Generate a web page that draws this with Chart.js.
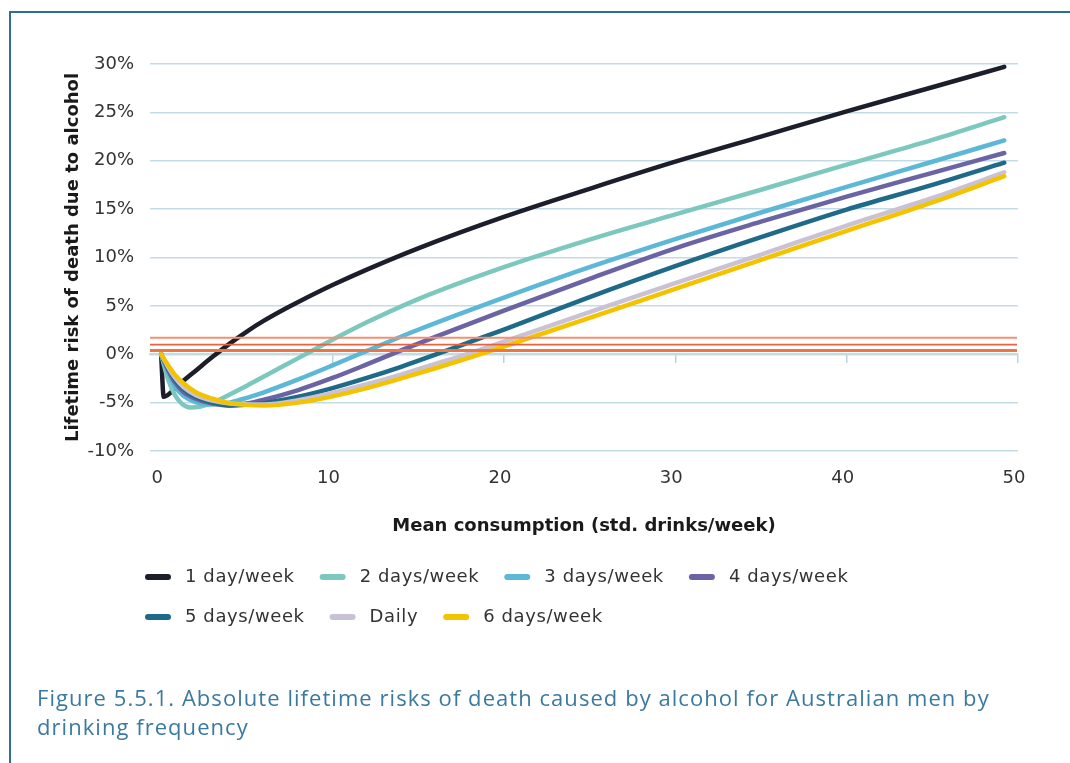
<!DOCTYPE html>
<html><head><meta charset="utf-8">
<script src="https://cdn.jsdelivr.net/npm/chart.js@4.4.1/dist/chart.umd.min.js"></script>
<style>
html,body{margin:0;padding:0;background:#fff;width:1070px;height:763px;overflow:hidden;}
#frame{position:absolute;left:9px;top:11px;width:1100px;height:800px;border-left:2px solid #2f6f97;border-top:2px solid #2f6f97;}
#c{position:absolute;left:0;top:0;}
#cap{position:absolute;left:37px;top:683px;font-family:'Open Sans';font-weight:400;font-size:22px;letter-spacing:1.05px;line-height:29px;color:#3b7aa0;white-space:nowrap;}
</style></head><body>
<div id="frame"></div>
<canvas id="c" width="1070" height="763"></canvas>
<div id="cap">Figure 5.5.1. Absolute lifetime risks of death caused by alcohol for Australian men by<br>drinking frequency</div>
<script>
// ---- data (x = mean std drinks/week, y = lifetime risk %) ----
const seriesNames = ['1 day/week','2 days/week','3 days/week','4 days/week','5 days/week','Daily','6 days/week'];
const seriesColors = ['#1c1f2b','#7cc8bf','#5cb8d6','#6b64a4','#1e6a88','#c9c2d6','#f4c300'];
const oneDay   = [[0,0],[0.15,-4.4],[1,-3.17],[2,-1.72],[3,-0.27],[4,1.1],[5,2.35],[6,3.47],[7,4.47],[8,5.4],[10,7.15],[12,8.75],[15,10.95],[20,14.2],[25,17.1],[30,19.9],[35,22.5],[40,25.1],[45,27.6],[49.2,29.7]];
const twoDays  = [[0,0],[0.4,-2.6],[0.8,-4.2],[1.2,-5.1],[1.7,-5.5],[2.3,-5.4],[3,-5.0],[4,-4.15],[5,-3.25],[6,-2.3],[7,-1.35],[8,-0.4],[9,0.55],[10,1.5],[12,3.3],[15,5.7],[20,9.0],[25,11.85],[30,14.45],[35,17.0],[40,19.6],[45,22.15],[49.2,24.5]];
const threeDays= [[0,0],[0.4,-1.9],[0.8,-3.3],[1.3,-4.3],[2,-4.95],[3,-5.2],[4,-5.0],[5,-4.5],[6,-3.93],[8,-2.6],[10,-1.15],[12,0.35],[15,2.53],[20,5.85],[25,9.0],[30,11.9],[35,14.65],[40,17.3],[45,19.9],[49.2,22.1]];
const fourDays = [[0,0],[0.4,-1.6],[0.8,-2.9],[1.3,-3.9],[2,-4.6],[3,-5.1],[4,-5.3],[5,-5.1],[6,-4.7],[8,-3.7],[10,-2.45],[12,-1.05],[14,0.4],[16,1.8],[20,4.5],[25,7.8],[30,10.95],[35,13.7],[40,16.3],[45,18.75],[49.2,20.8]];
const fiveDays = [[0,0],[0.4,-1.4],[0.8,-2.6],[1.3,-3.6],[2,-4.4],[3,-5.0],[4,-5.3],[6,-5.05],[8,-4.4],[10,-3.5],[12,-2.45],[14,-1.3],[16,-0.05],[18,1.25],[20,2.55],[25,5.9],[30,9.1],[35,12.1],[40,14.95],[45,17.5],[49.2,19.8]];
const daily    = [[0,0],[0.4,-1.3],[0.8,-2.4],[1.3,-3.4],[2,-4.2],[3,-4.8],[4,-5.1],[6,-5.2],[8,-4.75],[10,-4.0],[12,-3.1],[14,-2.1],[16,-1.0],[18,0.1],[20,1.3],[25,4.35],[30,7.35],[35,10.3],[40,13.3],[45,16.15],[49.2,18.8]];
const sixDays  = [[0,0],[0.4,-1.1],[0.8,-2.1],[1.3,-3.0],[2,-3.9],[3,-4.6],[4,-5.05],[6,-5.3],[8,-5.0],[10,-4.35],[12,-3.5],[14,-2.5],[16,-1.45],[18,-0.35],[20,0.8],[25,3.75],[30,6.75],[35,9.75],[40,12.75],[45,15.7],[49.2,18.4]];
const seriesData = [oneDay,twoDays,threeDays,fourDays,fiveDays,daily,sixDays];
const drawOrder = [7,6,5,4,3,2,1];
const refLevels = [1.7, 1.0, 0.4];
const refColors = ['#f3906f','#e9613e','#ef7440'];
const refWidths = [2, 1.6, 3];
const xTicks = [0,10,20,30,40,50];
const yTicks = [-10,-5,0,5,10,15,20,25,30];
const xMin = -0.65, xMax = 50, refEnd = 49.94;

const datasets = seriesData.map((pts,i)=>({
  label: seriesNames[i],
  data: pts.map(p=>({x:p[0], y:p[1]})),
  borderColor: seriesColors[i],
  backgroundColor: seriesColors[i],
  borderWidth: 4.5,
  pointRadius: 0,
  cubicInterpolationMode: 'monotone',
  borderCapStyle: 'round',
  borderJoinStyle: 'round',
  order: drawOrder[i],
  fill: false
}));
refLevels.forEach((v,i)=>datasets.push({
  label: 'ref'+i, isRef: true,
  data: [{x:xMin,y:v},{x:refEnd,y:v}],
  borderColor: refColors[i], borderWidth: refWidths[i], pointRadius: 0, order: 0, fill:false
}));

const legendPlugin = {
  id: 'customLegend',
  afterDraw(chart){
    const ctx = chart.ctx;
    const items = chart.data.datasets.filter(d=>!d.isRef);
    const rows = [items.slice(0,4), items.slice(4)];
    const rowY = [577, 617];
    ctx.save();
    ctx.font = '18px "DejaVu Sans"';
    try { ctx.letterSpacing = '0.6px'; } catch(e) {}
    ctx.textBaseline = 'middle';
    rows.forEach((row,r)=>{
      let x = 145;
      row.forEach(d=>{
        ctx.strokeStyle = d.borderColor; ctx.lineWidth = 6; ctx.lineCap = 'round';
        ctx.beginPath(); ctx.moveTo(x+3, rowY[r]); ctx.lineTo(x+23, rowY[r]); ctx.stroke();
        ctx.fillStyle = '#333';
        ctx.fillText(d.label, x+40, rowY[r]);
        x += 40 + ctx.measureText(d.label).width + 25;
      });
    });
    ctx.restore();
  }
};

Chart.defaults.font.family = '"DejaVu Sans"';
new Chart(document.getElementById('c'), {
  type: 'line',
  data: { datasets },
  plugins: [legendPlugin],
  options: {
    responsive: false, animation: false, devicePixelRatio: 1,
    layout: { padding: { left: 0, right: 52, top: 64, bottom: 212 } },
    plugins: { legend: { display: false }, tooltip: { enabled: false } },
    scales: {
      x: {
        type: 'linear', min: xMin, max: xMax, position: 'bottom',
        afterBuildTicks: s => { s.ticks = xTicks.map(v=>({value:v})); },
        afterFit: s => { s.height = 100; },
        grid: { display: false }, border: { display: false },
        ticks: { color: '#333', font: { size: 18 }, padding: 9, labelOffset: -4, maxRotation: 0 },
        title: { display: true, text: 'Mean consumption (std. drinks/week)', color: '#1a1a1a',
                 font: { size: 18, weight: 'bold' }, padding: { top: 0, bottom: 14 } }
      },
      x0: {
        type: 'linear', min: xMin, max: xMax, position: { y: 0 },
        afterBuildTicks: s => { s.ticks = xTicks.map(v=>({value:v})); },
        grid: { drawOnChartArea: false, drawTicks: true, tickLength: 8, color: '#bcd3dd', lineWidth: 1.5 },
        border: { display: true, color: '#c3dbe6', width: 2 },
        ticks: { display: false }
      },
      y: {
        type: 'linear', min: -10, max: 30, position: 'left',
        afterBuildTicks: s => { s.ticks = yTicks.map(v=>({value:v})); },
        afterFit: s => { s.width = 150; },
        grid: { color: '#c3dbe6', lineWidth: 1.5, drawTicks: false },
        border: { display: false },
        ticks: { color: '#333', font: { size: 18 }, padding: 16, callback: v => v + '%' },
        title: { display: true, text: 'Lifetime risk of death due to alcohol', color: '#1a1a1a',
                 font: { size: 18, weight: 'bold' }, padding: { top: 63, bottom: 0 } }
      }
    }
  }
});
</script>
</body></html>
